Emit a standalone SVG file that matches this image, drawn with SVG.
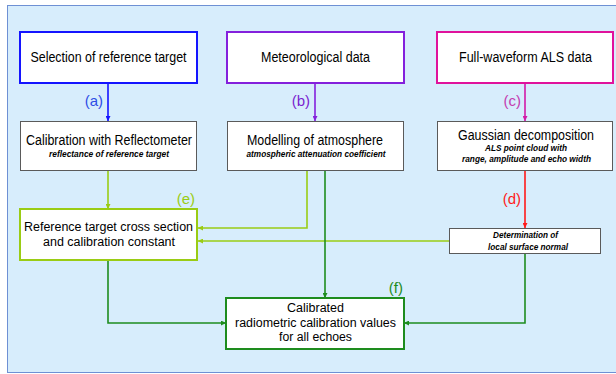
<svg xmlns="http://www.w3.org/2000/svg" width="616" height="374" viewBox="0 0 616 374">
<defs>
<style>
text{font-family:"Liberation Sans",Arial,sans-serif;fill:#000}
.t{font-size:14px;text-anchor:middle}
.t2{font-size:12.5px;text-anchor:middle}
.s{font-size:9px;font-style:italic;font-weight:bold;text-anchor:middle}
.lbl{font-size:15px;text-anchor:end}
.box{fill:#fff}
.gray{stroke:#5a5a5a;stroke-width:1}
.ln{fill:none;stroke-width:1.6}
</style>
<marker id="mb" viewBox="0 0 10 10" refX="10" refY="5" markerWidth="5" markerHeight="5" markerUnits="userSpaceOnUse" orient="auto"><path d="M0,0L10,5L0,10z" fill="#1414ff"/></marker>
<marker id="mp" viewBox="0 0 10 10" refX="10" refY="5" markerWidth="5" markerHeight="5" markerUnits="userSpaceOnUse" orient="auto"><path d="M0,0L10,5L0,10z" fill="#8420dc"/></marker>
<marker id="mm" viewBox="0 0 10 10" refX="10" refY="5" markerWidth="5" markerHeight="5" markerUnits="userSpaceOnUse" orient="auto"><path d="M0,0L10,5L0,10z" fill="#d21aa8"/></marker>
<marker id="mr" viewBox="0 0 10 10" refX="10" refY="5" markerWidth="5" markerHeight="5" markerUnits="userSpaceOnUse" orient="auto"><path d="M0,0L10,5L0,10z" fill="#ff1a1a"/></marker>
<marker id="ml" viewBox="0 0 10 10" refX="10" refY="5" markerWidth="5" markerHeight="5" markerUnits="userSpaceOnUse" orient="auto"><path d="M0,0L10,5L0,10z" fill="#9acc14"/></marker>
<marker id="md" viewBox="0 0 10 10" refX="10" refY="5" markerWidth="5" markerHeight="5" markerUnits="userSpaceOnUse" orient="auto"><path d="M0,0L10,5L0,10z" fill="#1e8c1e"/></marker>
</defs>
<rect x="7.5" y="5.5" width="615" height="367" fill="#d7edfc" stroke="#6e90d4" stroke-width="1"/>
<g id="connectors">
<path class="ln" d="M108,83V121" stroke="#1414ff" marker-end="url(#mb)"/>
<path class="ln" d="M315,83V121" stroke="#8420dc" marker-end="url(#mp)"/>
<path class="ln" d="M525,83V121" stroke="#d21aa8" marker-end="url(#mm)"/>
<path class="ln" d="M525,171V228" stroke="#ff1a1a" marker-end="url(#mr)"/>
<path class="ln" d="M108,171V209" stroke="#9acc14" marker-end="url(#ml)"/>
<path class="ln" d="M307,171V228H198" stroke="#9acc14" marker-end="url(#ml)"/>
<path class="ln" d="M449,241H198" stroke="#9acc14" marker-end="url(#ml)"/>
<path class="ln" d="M325,171V298" stroke="#1e8c1e" marker-end="url(#md)"/>
<path class="ln" d="M108,260V323H226" stroke="#1e8c1e" marker-end="url(#md)"/>
<path class="ln" d="M525,253V323H404" stroke="#1e8c1e" marker-end="url(#md)"/>
<text class="lbl" x="103" y="106" style="fill:#2e4ee6">(a)</text>
<text class="lbl" x="310" y="106" style="fill:#7a1fd0">(b)</text>
<text class="lbl" x="521" y="106" style="fill:#c43cb0">(c)</text>
<text class="lbl" x="521" y="204" style="fill:#ff1a1a">(d)</text>
<text class="lbl" x="195" y="204" style="fill:#9acc14">(e)</text>
<text class="lbl" x="403" y="293" style="fill:#1e8c1e">(f)</text>
</g>
<g id="sel">
<rect class="box" x="20" y="32" width="177" height="51" stroke="#1414ff" stroke-width="2"/>
<text class="t" x="108.5" y="62" textLength="156" lengthAdjust="spacingAndGlyphs">Selection of reference target</text>
</g>
<g id="met">
<rect class="box" x="227" y="32" width="177" height="51" stroke="#8420dc" stroke-width="2"/>
<text class="t" x="315.5" y="62" textLength="109" lengthAdjust="spacingAndGlyphs">Meteorological data</text>
</g>
<g id="fw">
<rect class="box" x="437" y="32" width="176" height="51" stroke="#e0129c" stroke-width="2"/>
<text class="t" x="525.5" y="62" textLength="133" lengthAdjust="spacingAndGlyphs">Full-waveform ALS data</text>
</g>
<g id="cal">
<rect class="box gray" x="20.5" y="121.5" width="176" height="49"/>
<text class="t" x="109" y="145" textLength="166" lengthAdjust="spacingAndGlyphs">Calibration with Reflectometer</text>
<text class="s" x="109" y="157" textLength="120" lengthAdjust="spacingAndGlyphs">reflectance of reference target</text>
</g>
<g id="mod">
<rect class="box gray" x="227.5" y="121.5" width="176" height="49"/>
<text class="t" x="315" y="145" textLength="136" lengthAdjust="spacingAndGlyphs">Modelling of atmosphere</text>
<text class="s" x="316" y="157" textLength="139" lengthAdjust="spacingAndGlyphs">atmospheric attenuation coefficient</text>
</g>
<g id="gau">
<rect class="box gray" x="437.5" y="121.5" width="175" height="49"/>
<text class="t" x="526" y="139.5" textLength="136" lengthAdjust="spacingAndGlyphs">Gaussian decomposition</text>
<text class="s" x="526" y="151" textLength="82" lengthAdjust="spacingAndGlyphs">ALS point cloud with</text>
<text class="s" x="526.5" y="162" textLength="129" lengthAdjust="spacingAndGlyphs">range, amplitude and echo width</text>
</g>
<g id="ref">
<rect class="box" x="20" y="209" width="177" height="51" stroke="#9acc14" stroke-width="2"/>
<text class="t2" x="108.5" y="231" textLength="169" lengthAdjust="spacingAndGlyphs">Reference target cross section</text>
<text class="t2" x="109" y="245.5" textLength="132" lengthAdjust="spacingAndGlyphs">and calibration constant</text>
</g>
<g id="det">
<rect class="box gray" x="449.5" y="228.5" width="151" height="25"/>
<text class="s" x="525.5" y="238" textLength="65" lengthAdjust="spacingAndGlyphs">Determination of</text>
<text class="s" x="528" y="250" textLength="80" lengthAdjust="spacingAndGlyphs">local surface normal</text>
</g>
<g id="res">
<rect class="box" x="226" y="298" width="178" height="51" stroke="#1e8c1e" stroke-width="2"/>
<text class="t2" x="315.5" y="312" textLength="57" lengthAdjust="spacingAndGlyphs">Calibrated</text>
<text class="t2" x="315.5" y="326.5" textLength="161" lengthAdjust="spacingAndGlyphs">radiometric calibration values</text>
<text class="t2" x="315.5" y="341" textLength="73" lengthAdjust="spacingAndGlyphs">for all echoes</text>
</g>
</svg>
